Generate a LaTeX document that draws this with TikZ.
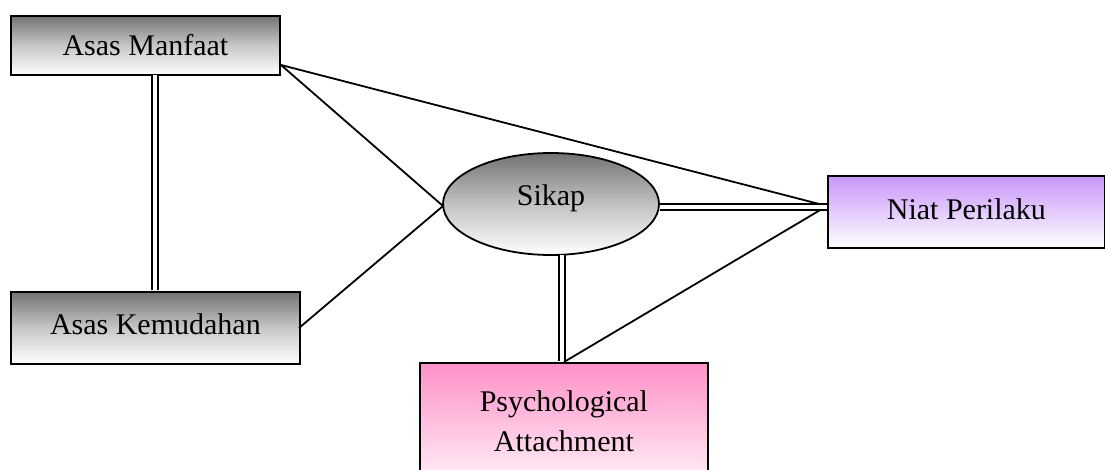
\documentclass[tikz,border=0pt]{standalone}
\usepackage{fontspec}
\setmainfont{Liberation Serif}
\usetikzlibrary{shapes.geometric}
\begin{document}
\begin{tikzpicture}[x=1pt,y=-1pt,
  grayfill/.style={draw=black,line width=1.8pt,top color=black!55,bottom color=white,middle color=black!22},
  boxnode/.style={rectangle,inner sep=0pt,font=\fontsize{30}{34}\selectfont},
  single/.style={line width=1.8pt},
  dbl/.style={double,double distance=3.4pt,line width=2pt}]
\useasboundingbox (0,0) rectangle (1105,470);
\clip (0,0) rectangle (1105,470);
\node[boxnode,grayfill,minimum width=269pt,minimum height=59pt,anchor=north west] (am) at (10,15) {Asas Manfaat};
\node[boxnode,grayfill,minimum width=289pt,minimum height=72pt,anchor=north west] (ak) at (10,291) {\raisebox{8pt}{Asas Kemudahan}};
\node[ellipse,draw=black,line width=1.8pt,top color=black!55,bottom color=white,middle color=black!24,minimum width=216pt,minimum height=102pt,inner sep=0pt,font=\fontsize{30}{34}\selectfont] (sk) at (551,204) {\raisebox{17pt}{Sikap}};
\node[boxnode,draw=black,line width=1.8pt,top color={rgb,255:red,200;green,150;blue,250},bottom color=white,minimum width=277pt,minimum height=72pt,anchor=north west] (np) at (827,175) {\raisebox{6pt}{Niat Perilaku}};
\node[boxnode,draw=black,line width=1.8pt,top color={rgb,255:red,255;green,145;blue,200},bottom color=white,minimum width=288pt,minimum height=140pt,anchor=north west,align=center] (pa) at (419,362) {\raisebox{48pt}{\parbox{280pt}{\centering\fontsize{30}{40}\selectfont Psychological\\Attachment}}};
\coordinate (amr) at (281,65);
\coordinate (npl) at (827,206);
\coordinate (skl) at (443,206);
\coordinate (akr) at (299,328);
\coordinate (pat) at (564,362);
\draw[single] (amr) -- (npl);
\draw[single] (amr) -- (skl);
\draw[single] (akr) -- (skl);
\draw[single] (pat) -- (npl);
\draw[dbl] (155,75) -- (155,290);
\draw[dbl] (sk.east |- 0,207) -- (827,207);
\draw[dbl] (562,255.5) -- (562,361);
\end{tikzpicture}
\end{document}
